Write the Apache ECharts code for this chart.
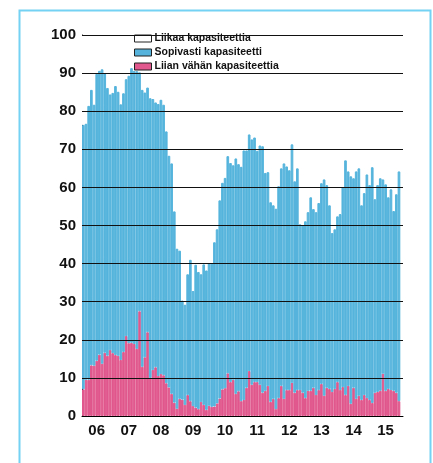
<!DOCTYPE html>
<html>
<head>
<meta charset="utf-8">
<script src="https://cdn.jsdelivr.net/npm/echarts@6/dist/echarts.min.js"></script>
<style>
html,body{margin:0;padding:0;background:#fff;}
#c{width:433px;height:463px;}
</style>
</head>
<body>
<div id="c"></div>
<script>
// Year tick labels (one category per month, Jan 2006 – Dec 2015)
const yearLabels = ['06','07','08','09','10','11','12','13','14','15'];
const seriesNames = ['Liikaa kapasiteettia','Sopivasti kapasiteetti','Liian vähän kapasiteettia'];

// Upper edge of the blue band (share answering "sopivasti" or "liian vähän"), %
const upperEdge = [
  76.4, 76.7, 81.4, 85.6, 81.7, 89.8, 90.6, 91.0, 89.9, 86.1, 84.4, 84.8,
  86.6, 85.1, 81.8, 84.7, 88.4, 89.3, 91.3, 90.6, 90.5, 90.2, 85.6, 84.9,
  86.2, 83.4, 83.2, 82.3, 81.9, 83.0, 81.7, 74.7, 68.3, 66.3, 53.7, 43.9,
  43.4, 30.3, 29.2, 37.2, 41.0, 32.8, 39.7, 37.8, 37.2, 39.8, 38.2, 40.0,
  40.0, 45.6, 49.0, 56.6, 61.2, 62.5, 68.2, 66.4, 65.8, 67.6, 66.1, 65.4,
  69.7, 69.7, 73.9, 72.6, 73.1, 69.6, 71.0, 70.8, 63.8, 64.0, 56.1, 55.3,
  54.4, 60.3, 65.0, 66.3, 65.5, 64.5, 71.3, 61.6, 65.0, 50.3, 50.0, 51.1,
  53.5, 57.4, 54.3, 53.5, 55.9, 61.1, 62.1, 60.6, 55.3, 48.0, 49.0, 52.4,
  53.0, 60.0, 67.1, 64.2, 62.9, 62.4, 64.2, 65.0, 55.3, 58.5, 63.4, 60.6,
  65.3, 56.9, 60.6, 62.4, 62.1, 60.8, 57.4, 59.5, 53.8, 58.2, 64.2
];
// "Liian vähän kapasiteettia" (pink), %
const liianVahan = [
  7.0, 9.5, 9.5, 13.3, 13.2, 14.5, 16.1, 13.7, 16.6, 15.8, 17.3, 16.5,
  16.0, 15.8, 14.7, 16.8, 21.0, 19.1, 19.2, 18.9, 17.6, 27.5, 12.9, 15.4,
  22.0, 10.0, 12.1, 12.8, 10.5, 11.0, 10.7, 8.6, 7.5, 5.8, 3.5, 1.9,
  4.5, 4.3, 2.9, 5.5, 3.9, 2.6, 2.2, 1.8, 3.7, 2.9, 1.6, 2.7,
  2.4, 2.5, 3.3, 4.6, 7.0, 7.3, 11.2, 8.9, 9.5, 5.8, 6.5, 3.9,
  4.2, 7.4, 11.8, 8.2, 8.9, 8.9, 8.2, 6.1, 6.6, 7.9, 3.7, 4.5,
  1.8, 4.7, 7.9, 4.5, 6.8, 6.8, 8.7, 6.1, 6.8, 6.8, 6.1, 4.7,
  6.6, 6.6, 7.4, 5.5, 6.8, 8.4, 5.3, 7.4, 7.1, 6.3, 7.1, 8.9,
  6.8, 7.6, 5.5, 7.9, 3.2, 7.4, 4.5, 5.3, 4.2, 5.5, 4.7, 4.2,
  3.4, 6.1, 6.3, 6.6, 11.1, 6.6, 7.1, 6.8, 6.6, 6.1, 3.9
];
const yTicks = [10,20,30,40,50,60,70,80,90,100];

// month categories
const months = [];
yearLabels.forEach(y => { for (let m = 1; m <= 12; m++) months.push('20' + y + '-' + (m < 10 ? '0' + m : m)); });

const sopivasti = upperEdge.map((v, i) => +(v - liianVahan[i]).toFixed(1));
const liikaa = upperEdge.map(v => +(100 - v).toFixed(1));

const BLUE = '#56B4DC', PINK = '#E0588D';
const font = '"Liberation Sans", Arial, sans-serif';

const chart = echarts.init(document.getElementById('c'), null, {renderer: 'canvas'});
chart.setOption({
  animation: false,
  backgroundColor: '#fff',
  graphic: [{
    type: 'rect', left: 17, top: 8, silent: true, z: 100,
    shape: {width: 411, height: 480},
    style: {fill: 'none', stroke: '#74D2F4', lineWidth: 2}
  }],
  grid: {left: 82, right: 30, top: 35, bottom: 47, containLabel: false},
  legend: {
    orient: 'vertical', left: 134, top: 33, padding: 0,
    itemWidth: 17, itemHeight: 7, itemGap: 3,
    icon: 'rect',
    data: seriesNames,
    textStyle: {fontFamily: font, fontWeight: 'bold', fontSize: 10.5, color: '#111', padding: [0,0,0,-2]},
    itemStyle: {borderColor: '#222', borderWidth: 1}
  },
  xAxis: {
    type: 'category', data: months, boundaryGap: true,
    axisLine: {show: true, lineStyle: {color: '#000', width: 1}},
    axisTick: {show: false},
    axisLabel: {
      interval: (i) => i % 12 === 5,
      formatter: (v, i) => yearLabels[Math.floor(i / 12)],
      fontFamily: font, fontWeight: 'bold', fontSize: 15, color: '#111', margin: 7
    },
    splitLine: {show: false}
  },
  yAxis: {
    type: 'value', min: 0, max: 100, interval: 10,
    axisLine: {show: true, lineStyle: {color: '#000', width: 1}},
    axisTick: {show: false},
    axisLabel: {fontFamily: font, fontWeight: 'bold', fontSize: 15, color: '#111', margin: 6},
    splitLine: {show: false}
  },
  series: [
    {
      name: seriesNames[2], type: 'bar', stack: 'k', data: liianVahan,
      barWidth: '100%', barCategoryGap: 0,
      itemStyle: {color: PINK, borderColor: PINK, borderWidth: 1}
    },
    {
      name: seriesNames[1], type: 'bar', stack: 'k', data: sopivasti,
      barWidth: '100%', barCategoryGap: 0,
      itemStyle: {color: BLUE, borderColor: BLUE, borderWidth: 1}
    },
    {
      name: seriesNames[0], type: 'bar', stack: 'k', data: liikaa,
      barWidth: '100%', barCategoryGap: 0, z: 1,
      itemStyle: {color: '#fff'},
      markLine: {
        silent: true, symbol: 'none', animation: false, z: 10,
        label: {show: false},
        lineStyle: {color: '#111', width: 1, type: 'solid'},
        data: yTicks.map(t => ({yAxis: t}))
      }
    }
  ]
});
</script>
</body>
</html>
